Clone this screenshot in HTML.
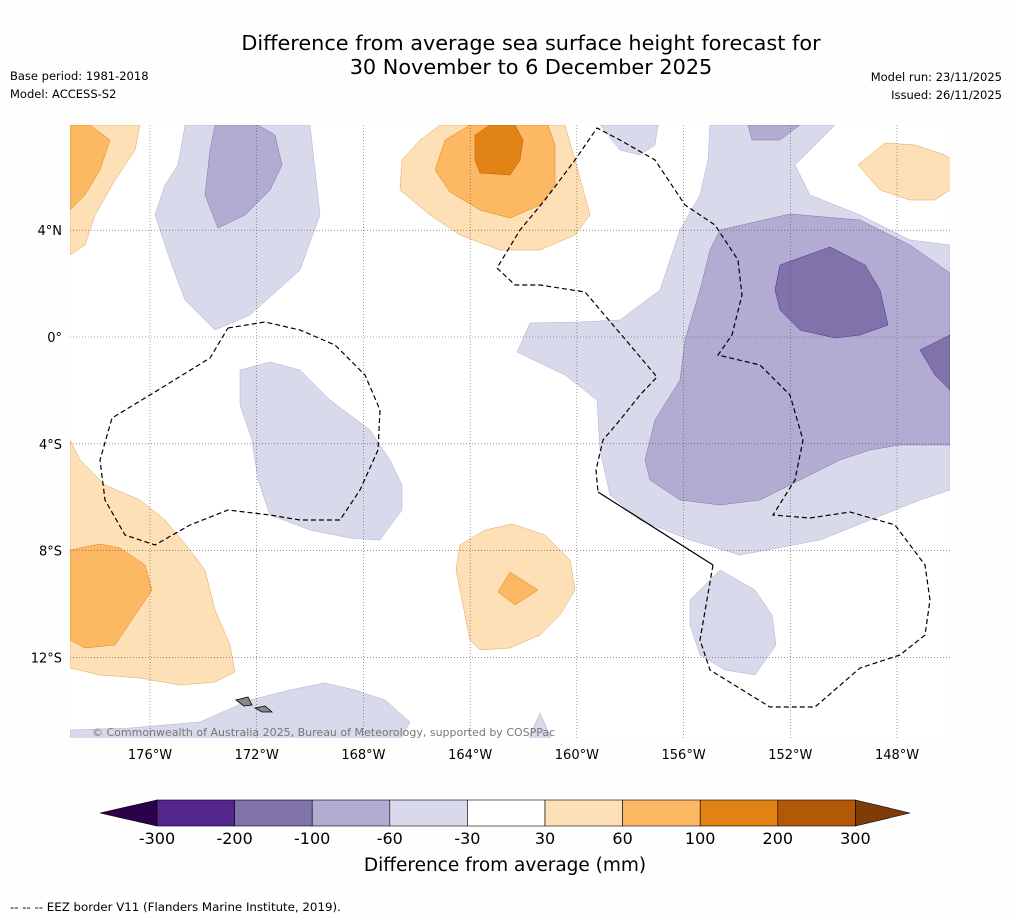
<!DOCTYPE html>
<html><head><meta charset="utf-8">
<style>
body{margin:0;background:#fefefe;font-family:"DejaVu Sans","Liberation Sans",sans-serif;}
svg{display:block}
</style></head>
<body>
<svg width="1011" height="919" viewBox="0 0 1011 919">
<rect width="1011" height="919" fill="#fefefe"/>
<text x="531" y="50" font-size="20.8" text-anchor="middle">Difference from average sea surface height forecast for</text>
<text x="531" y="74" font-size="20.8" text-anchor="middle">30 November to 6 December 2025</text>
<text x="10" y="80" font-size="11.5">Base period: 1981-2018</text>
<text x="10" y="98" font-size="11.5">Model: ACCESS-S2</text>
<text x="1002" y="81" font-size="11.5" text-anchor="end">Model run: 23/11/2025</text>
<text x="1002" y="99" font-size="11.5" text-anchor="end">Issued: 26/11/2025</text>

<g>
<rect x="70" y="125" width="880" height="613" fill="#ffffff"/>
<clipPath id="c"><rect x="70" y="125" width="880" height="613"/></clipPath>
<g clip-path="url(#c)" stroke-width="0.5">
<g fill="#d8daeb" stroke="#b2abd2">
<polygon points="185,125 310,125 320,215 300,270 250,315 215,330 185,300 170,260 155,215 165,185 178,165"/>
<polygon points="600,125 658,125 655,145 640,155 620,150"/>
<polygon points="710,125 835,125 800,160 795,165 810,195 860,215 910,240 950,245 950,490 920,500 870,520 820,540 740,555 690,540 640,520 610,495 600,450 597,400 565,375 517,352 530,323 580,322 620,320 660,290 680,230 700,195 708,160"/>
<polygon points="240,370 270,362 300,370 330,400 370,430 390,460 402,485 402,510 380,540 350,538 310,530 270,515 258,480 252,440 240,405"/>
<polygon points="690,600 720,570 755,590 772,615 776,645 755,675 725,670 700,655 690,625"/>
<polygon points="70,730 130,728 200,722 250,700 290,690 325,683 355,690 385,700 410,722 400,740 70,740"/>
<polygon points="528,740 540,713 552,740"/>
</g>
<g fill="#b2abd2" stroke="#8073ac">
<polygon points="215,125 258,125 275,135 282,165 270,190 245,215 218,228 205,195 210,150"/>
<polygon points="720,230 790,214 860,220 910,245 950,273 950,445 900,445 870,450 840,460 800,480 760,500 720,505 680,500 650,480 645,460 655,420 680,380 685,340 700,290 710,250"/>
<polygon points="748,125 800,125 780,140 752,140"/>
</g>
<g fill="#8073ac" stroke="#54278f">
<polygon points="780,265 830,247 865,265 880,290 888,325 860,335 835,338 800,330 780,310 775,290"/>
<polygon points="920,350 950,335 950,390 935,375"/>
</g>
<g fill="#fee0b6" stroke="#e0a060">
<polygon points="70,125 140,125 135,150 115,180 95,215 85,245 70,255"/>
<polygon points="440,125 565,125 575,160 590,215 575,235 540,250 500,250 460,235 430,215 400,190 402,160 420,140"/>
<polygon points="858,165 885,143 915,145 945,155 952,160 950,190 935,200 910,200 880,190"/>
<polygon points="70,440 80,460 105,485 140,500 165,520 190,550 205,570 215,610 230,645 235,672 215,682 180,685 140,678 100,675 70,668"/>
<polygon points="460,545 485,530 512,524 545,535 570,560 575,590 560,615 540,635 510,648 480,650 470,640 462,600 456,570"/>
</g>
<g fill="#fdb863" stroke="#e08214">
<polygon points="70,125 90,125 110,140 100,170 85,195 70,210"/>
<polygon points="470,125 548,125 555,145 555,185 540,205 510,218 480,210 450,192 435,170 445,140"/>
<polygon points="70,550 100,544 120,548 145,565 152,590 135,615 115,645 85,648 70,640"/>
<polygon points="498,592 510,572 538,590 515,605"/>
</g>
<g fill="#e08214" stroke="#b35806">
<polygon points="490,125 515,125 523,140 520,160 510,175 480,173 475,160 475,135"/>
</g>
</g>
<g stroke="#555" stroke-width="0.6" stroke-dasharray="1,2" id="grid"></g>
<g fill="#888" stroke="#000" stroke-width="0.8">
<polygon points="236,700 248,697 252,705 244,706"/>
<polygon points="255,708 265,706 272,712 262,712"/>
</g>
<g fill="none" stroke="#000" stroke-width="1.2" stroke-dasharray="5,3">
<polyline points="228,328 265,322 300,330 335,345 365,375 380,410 378,450 360,490 340,520 300,520 270,515 228,510 190,525 155,545 125,535 105,500 100,460 112,418 150,395 210,358 228,328"/>
<polyline points="713,565 700,640 710,670 770,707 815,707 860,668 900,655 925,635 930,600 925,565 895,525 850,512 810,518 773,515 795,480 803,440 790,395 760,365 718,355 732,335 742,295 738,260 715,225 685,205 655,160 620,140 597,128 575,160 545,200 520,230 497,268 515,285 540,285 585,292 630,345 657,377 640,395 620,420 603,440 596,470 598,492"/>
</g>
<line x1="598" y1="492" x2="713" y2="565" stroke="#000" stroke-width="1.2"/>
<text x="92" y="736" font-size="11" fill="#777">© Commonwealth of Australia 2025, Bureau of Meteorology, supported by COSPPac</text>
</g>
<g id="axes" font-size="13"></g>

<g id="cbar"></g>
<text x="505" y="871" font-size="18.5" text-anchor="middle">Difference from average (mm)</text>
<text x="10" y="911" font-size="11.8">--  --  -- EEZ border V11 (Flanders Marine Institute, 2019).</text>
</svg>
<script>
const lonTicks=[-176,-172,-168,-164,-160,-156,-152,-148];
const latTicks=[4,0,-4,-8,-12];
const levelLabels=["-300","-200","-100","-60","-30","30","60","100","200","300"];
const levelColors=["#54278f","#8073ac","#b2abd2","#d8daeb","#ffffff","#fee0b6","#fdb863","#e08214","#b35806"];
const ns="http://www.w3.org/2000/svg";
const xLon=l=>150+(l+176)*26.68;
const yLat=l=>337-l*26.7;
function mk(t,a,p){const e=document.createElementNS(ns,t);for(const k in a)e.setAttribute(k,a[k]);p.appendChild(e);return e;}
const grid=document.getElementById('grid'),axes=document.getElementById('axes'),cb=document.getElementById('cbar');
lonTicks.forEach(l=>{const x=xLon(l);
 const g=mk('line',{x1:x,x2:x,y1:125,y2:738},grid);
 
 
 const t=mk('text',{x:x,y:759,'text-anchor':'middle'},axes);t.textContent=Math.abs(l)+'°W';
 
 });
latTicks.forEach(l=>{const y=yLat(l);
 const g=mk('line',{x1:70,x2:950,y1:y,y2:y},grid);
 
 
 const t=mk('text',{x:62,y:y+5,'text-anchor':'end'},axes);t.textContent=l===0?'0°':Math.abs(l)+'°'+(l>0?'N':'S');
 
 });
const x0=157,w=77.6,y0=800,h=26;
const lo=mk('polygon',{points:`${x0},${y0} 100,${y0+h/2} ${x0},${y0+h}`,fill:'#2d004b',stroke:'#000','stroke-width':0.6},cb);


levelColors.forEach((c,i)=>{const r=mk('rect',{x:x0+i*w,y:y0,width:w,height:h,fill:c,stroke:'#000','stroke-width':0.6},cb);
 
 });
const xe=x0+levelColors.length*w;
const hi=mk('polygon',{points:`${xe},${y0} 910,${y0+h/2} ${xe},${y0+h}`,fill:'#7f3b08',stroke:'#000','stroke-width':0.6},cb);


levelLabels.forEach((s,i)=>{const t=mk('text',{x:x0+i*w,y:844,'font-size':16,'text-anchor':'middle'},cb);t.textContent=s;
 
 });
</script>
</body></html>
